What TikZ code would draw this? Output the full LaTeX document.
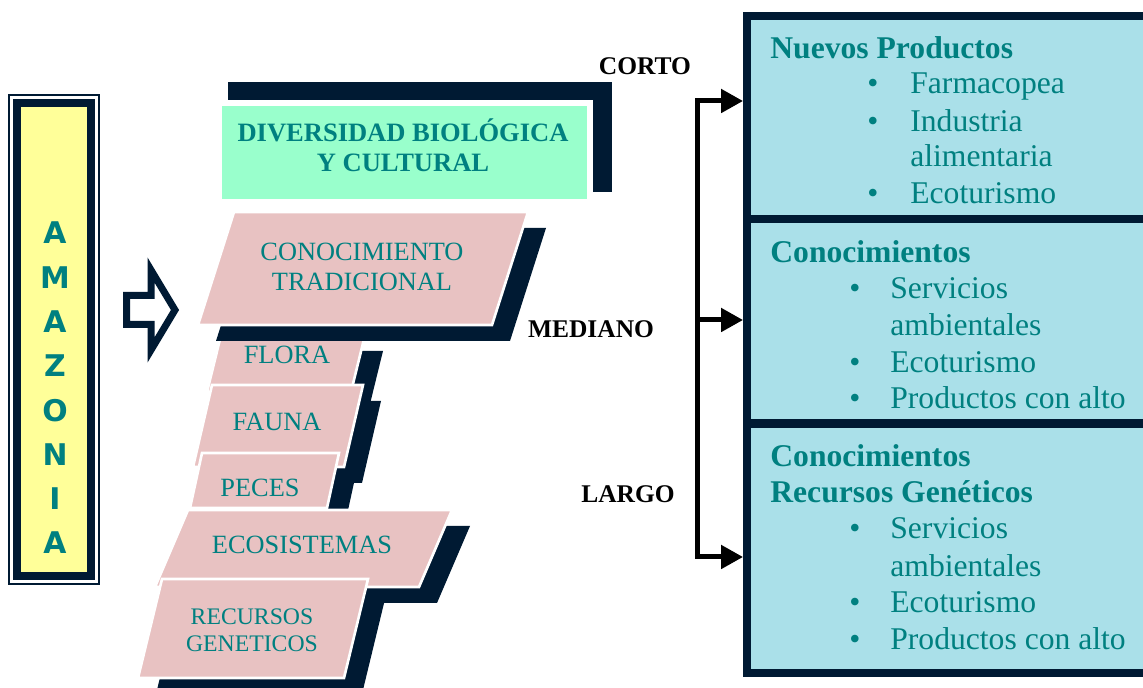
\documentclass[tikz,border=0pt]{standalone}
\usepackage{fontspec}
\setmainfont{Liberation Serif}
\newfontfamily\comicfont{DejaVu Sans}
\usetikzlibrary{arrows.meta}
\definecolor{navyink}{RGB}{0,26,51}
\definecolor{tealtext}{RGB}{0,128,128}
\definecolor{mintfill}{RGB}{153,255,204}
\definecolor{rosefill}{RGB}{232,194,194}
\definecolor{aquafill}{RGB}{170,224,233}
\definecolor{lemonfill}{RGB}{255,255,153}
\tikzstyle{amazbox}=[draw=navyink,line width=0.16cm,fill=lemonfill,minimum width=1.48cm,minimum height=9.46cm,inner sep=0,outer sep=0]
\tikzstyle{amazletter}=[text=tealtext,font=\comicfont\bfseries\fontsize{17}{17}\selectfont,inner sep=0]
\tikzstyle{mintbox}=[draw=white,line width=3pt,fill=mintfill,minimum width=7.42cm,minimum height=1.98cm,inner sep=0]
\tikzstyle{plank}=[fill=rosefill,draw=white,line width=1.5pt]
\tikzstyle{plankshadow}=[fill=navyink]
\tikzstyle{planktext}=[text=tealtext,font=\fontsize{15}{17.5}\selectfont,align=center,inner sep=0]
\tikzstyle{termbox}=[draw=navyink,line width=0.16cm,fill=aquafill,minimum width=8.26cm,inner sep=0]
\tikzstyle{termhead}=[text=tealtext,font=\fontsize{18}{20}\selectfont\bfseries,anchor=base west,inner sep=0]
\tikzstyle{termitem}=[text=tealtext,font=\fontsize{18}{20}\selectfont,anchor=base west,inner sep=0]
\tikzstyle{termdot}=[text=tealtext,font=\fontsize{18}{20}\selectfont,anchor=base,inner sep=0]
\tikzstyle{termlabel}=[font=\fontsize{14.5}{17}\selectfont\bfseries,inner sep=0]
\tikzstyle{bracketbar}=[line width=0.1cm,line cap=rect]
\tikzstyle{bracketarrow}=[line width=0.1cm,-{Triangle[length=0.44cm,width=0.46cm]}]
\newcommand{\plank}[5]{%
  \fill[plankshadow,shift={(18,16)}] (#1,#3) -- (#2,#3) -- ({#2-#5},#4) -- ({#1-#5},#4) -- cycle;
  \draw[plank] (#1,#3) -- (#2,#3) -- ({#2-#5},#4) -- ({#1-#5},#4) -- cycle;}

\begin{document}
\begin{tikzpicture}[x=0.02cm,y=-0.02cm]
\useasboundingbox (0,0) rectangle (1143,688);
\clip (0,0) rectangle (1143,688);

% amazonia column
\node[amazbox] (amazonia) at (54,339.5) {};
\draw[navyink,line width=0.03cm] ([shift={(-8,-8)}]amazonia.north west) rectangle ([shift={(8,8)}]amazonia.south east);
\foreach \l [count=\i] in {A,M,A,Z,O,N,I,A}
	\node[amazletter] (letter\i) at (55,{233+44.3*(\i-1)}) {\l};
\draw[navyink,line width=0.14cm,fill=white] (126.5,295.5) -- (151,295.5) -- (151,270) -- (175,310) -- (151,350) -- (151,324.5) -- (126.5,324.5) -- cycle;

% diversidad
\fill[navyink] (228,82) rectangle (612,192);
\node[mintbox] (diversidad) at (404.5,152.5) {};
\node[planktext,font=\fontsize{15.1}{17}\selectfont\bfseries] (divtext) at (403,145) {DIVERSIDAD BIOLÓGICA\\Y CULTURAL};

% planks
\plank{221}{365}{335}{392}{14}
\plank{212}{363}{385}{467}{19}
\plank{202}{339}{453}{508}{12}
\plank{188}{452}{510}{587}{33}
\plank{162}{368}{579}{678}{24}
\plank{234}{528}{212}{325}{36}
\node[planktext] (conocimiento) at (362,267) {CONOCIMIENTO\\TRADICIONAL};
\node[planktext] (flora) at (287,355) {FLORA};
\node[planktext] (fauna) at (277,422) {FAUNA};
\node[planktext] (peces) at (260,488) {PECES};
\node[planktext] (ecosistemas) at (302,545) {ECOSISTEMAS};
\node[planktext,font=\fontsize{13.5}{15.3}\selectfont] (recursos) at (252,630) {RECURSOS\\GENETICOS};

% terms
\node[termlabel] (corto) at (645,66) {CORTO};
\node[termlabel] (mediano) at (591,329) {MEDIANO};
\node[termlabel] (largo) at (628,494) {LARGO};

% right boxes
\node[termbox,minimum height=4.06cm] (b1) at (953.5,117.5) {};
\node[termbox,minimum height=4.09cm] (b2) at (953.5,321.25) {};
\node[termbox,minimum height=4.99cm] (b3) at (953.5,548.25) {};

\node[termhead] (b1h) at (770,59) {Nuevos Productos};
\foreach \y/\t [count=\i] in {94/Farmacopea,132/Industria,167/alimentaria,204/Ecoturismo}
	\node[termitem] (b1i\i) at (910,\y) {\t};
\foreach \y [count=\i] in {94,132,204}
	\node[termdot] (b1d\i) at (873,\y) {•};

\node[termhead] (b2h) at (770,263) {Conocimientos};
\foreach \y/\t [count=\i] in {299/Servicios,336/ambientales,373/Ecoturismo,409/Productos con alto}
	\node[termitem] (b2i\i) at (890,\y) {\t};
\foreach \y [count=\i] in {299,373,409}
	\node[termdot] (b2d\i) at (855,\y) {•};

\node[termhead] (b3h) at (770,467) {Conocimientos};
\node[termhead] (b3h2) at (770,503) {Recursos Genéticos};
\foreach \y/\t [count=\i] in {539/Servicios,577/ambientales,613/Ecoturismo,650/Productos con alto}
	\node[termitem] (b3i\i) at (890,\y) {\t};
\foreach \y [count=\i] in {539,613,650}
	\node[termdot] (b3d\i) at (855,\y) {•};

% bracket
\coordinate (shortend) at (697,101);
\coordinate (midend) at (697,320);
\coordinate (longend) at (697,557);
\draw[bracketbar] (shortend) -- (longend);
\draw[bracketarrow] (shortend) -- (shortend -| b1.west);
\draw[bracketarrow] (midend) -- (midend -| b2.west);
\draw[bracketarrow] (longend) -- (longend -| b3.west);
\end{tikzpicture}
\end{document}
